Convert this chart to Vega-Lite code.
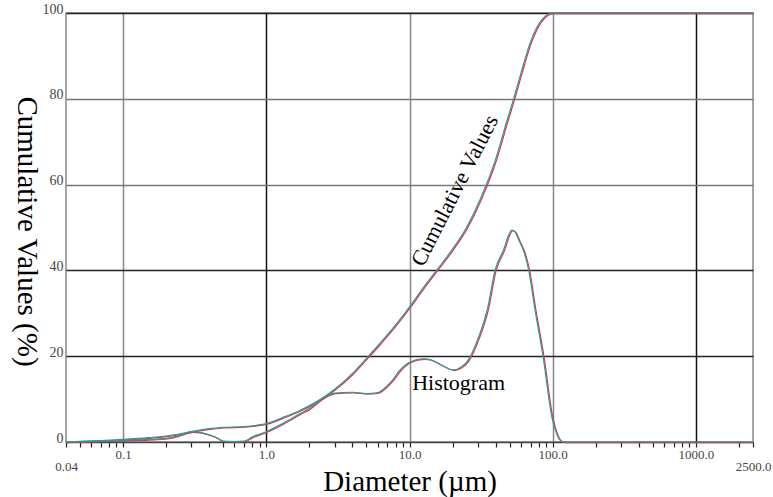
{
  "$schema": "https://vega.github.io/schema/vega-lite/v6.json",
  "width": 687,
  "height": 429,
  "autosize": {"type": "none"},
  "padding": {"left": 66, "top": 13, "right": 20, "bottom": 55},
  "background": "white",
  "config": {"view": {"stroke": "#888", "strokeWidth": 1.5}, "font": "Liberation Serif"},
  "datasets": {
    "curves": [
      {"series": "cum", "d": 0.04, "v": 0},
      {"series": "cum", "d": 0.05, "v": 0.15},
      {"series": "cum", "d": 0.07, "v": 0.35},
      {"series": "cum", "d": 0.1, "v": 0.6},
      {"series": "cum", "d": 0.15, "v": 1.0},
      {"series": "cum", "d": 0.2, "v": 1.4},
      {"series": "cum", "d": 0.3, "v": 2.4},
      {"series": "cum", "d": 0.4, "v": 3.1},
      {"series": "cum", "d": 0.5, "v": 3.4},
      {"series": "cum", "d": 0.7, "v": 3.6},
      {"series": "cum", "d": 0.85, "v": 3.9},
      {"series": "cum", "d": 1.0, "v": 4.3},
      {"series": "cum", "d": 1.3, "v": 5.7},
      {"series": "cum", "d": 1.7, "v": 7.3},
      {"series": "cum", "d": 2.0, "v": 8.5},
      {"series": "cum", "d": 2.5, "v": 10.4},
      {"series": "cum", "d": 3.0, "v": 12.3},
      {"series": "cum", "d": 4.0, "v": 16.0},
      {"series": "cum", "d": 5.0, "v": 19.5},
      {"series": "cum", "d": 6.25, "v": 23.1},
      {"series": "cum", "d": 8.0, "v": 27.3},
      {"series": "cum", "d": 10.0, "v": 31.5},
      {"series": "cum", "d": 12.5, "v": 36.0},
      {"series": "cum", "d": 15.1, "v": 39.6},
      {"series": "cum", "d": 20.0, "v": 45.0},
      {"series": "cum", "d": 25.0, "v": 50.0},
      {"series": "cum", "d": 31.0, "v": 56.4},
      {"series": "cum", "d": 40.0, "v": 66.0},
      {"series": "cum", "d": 48.0, "v": 75.0},
      {"series": "cum", "d": 53.0, "v": 79.7},
      {"series": "cum", "d": 60.0, "v": 86.0},
      {"series": "cum", "d": 69.5, "v": 93.0},
      {"series": "cum", "d": 77.0, "v": 96.5},
      {"series": "cum", "d": 85.7, "v": 98.8},
      {"series": "cum", "d": 100.0, "v": 100},
      {"series": "cum", "d": 2500, "v": 100},
      {"series": "hist", "d": 0.04, "v": 0},
      {"series": "hist", "d": 0.05, "v": 0.1},
      {"series": "hist", "d": 0.07, "v": 0.2},
      {"series": "hist", "d": 0.1, "v": 0.4},
      {"series": "hist", "d": 0.15, "v": 0.6},
      {"series": "hist", "d": 0.2, "v": 0.85},
      {"series": "hist", "d": 0.25, "v": 1.6},
      {"series": "hist", "d": 0.3, "v": 2.4},
      {"series": "hist", "d": 0.35, "v": 2.2},
      {"series": "hist", "d": 0.4, "v": 1.7},
      {"series": "hist", "d": 0.45, "v": 1.0},
      {"series": "hist", "d": 0.5, "v": 0.2},
      {"series": "hist", "d": 0.6, "v": 0.1},
      {"series": "hist", "d": 0.7, "v": 0.2},
      {"series": "hist", "d": 0.8, "v": 1.2},
      {"series": "hist", "d": 1.0, "v": 2.4},
      {"series": "hist", "d": 1.3, "v": 4.3},
      {"series": "hist", "d": 1.7, "v": 6.5},
      {"series": "hist", "d": 2.0, "v": 7.8},
      {"series": "hist", "d": 2.5, "v": 10.3},
      {"series": "hist", "d": 3.0, "v": 11.4},
      {"series": "hist", "d": 4.0, "v": 11.6},
      {"series": "hist", "d": 5.0, "v": 11.3},
      {"series": "hist", "d": 6.0, "v": 11.5},
      {"series": "hist", "d": 6.5, "v": 12.2},
      {"series": "hist", "d": 7.5, "v": 14.2},
      {"series": "hist", "d": 8.6, "v": 16.8},
      {"series": "hist", "d": 10.0, "v": 18.6},
      {"series": "hist", "d": 12.5, "v": 19.4},
      {"series": "hist", "d": 14.0, "v": 19.2},
      {"series": "hist", "d": 17.0, "v": 17.8},
      {"series": "hist", "d": 20.2, "v": 16.8},
      {"series": "hist", "d": 23.0, "v": 17.5},
      {"series": "hist", "d": 25.7, "v": 19.1},
      {"series": "hist", "d": 30.0, "v": 24.0},
      {"series": "hist", "d": 35.0, "v": 31.0},
      {"series": "hist", "d": 39.6, "v": 40.1},
      {"series": "hist", "d": 45.0, "v": 44.5},
      {"series": "hist", "d": 51.8, "v": 49.4},
      {"series": "hist", "d": 54.5, "v": 49.0},
      {"series": "hist", "d": 58.0, "v": 47.0},
      {"series": "hist", "d": 63.0, "v": 44.3},
      {"series": "hist", "d": 68.0, "v": 40.0},
      {"series": "hist", "d": 75.0, "v": 31.0},
      {"series": "hist", "d": 85.7, "v": 19.8},
      {"series": "hist", "d": 98.6, "v": 5.8},
      {"series": "hist", "d": 105.0, "v": 2.5},
      {"series": "hist", "d": 112.0, "v": 0.5},
      {"series": "hist", "d": 120.0, "v": 0},
      {"series": "hist", "d": 2500, "v": 0}
    ],
    "labels": [
      {"label": "Cumulative Values", "d": 12.46, "v": 40.6},
      {"label": "Histogram", "d": 10.44, "v": 12.1}
    ]
  },
  "encoding": {
    "x": {
      "field": "d",
      "type": "quantitative",
      "scale": {"type": "log", "domain": [0.04, 2500], "nice": false},
      "axis": {
        "values": [0.04, 0.05, 0.06, 0.07, 0.08, 0.09, 0.1, 0.2, 0.3, 0.4, 0.5, 0.6, 0.7, 0.8, 0.9, 1, 2, 3, 4, 5, 6, 7, 8, 9, 10, 20, 30, 40, 50, 60, 70, 80, 90, 100, 200, 300, 400, 500, 600, 700, 800, 900, 1000, 2000, 2500],
        "title": "Diameter (µm)",
        "titleFont": "Liberation Serif",
        "titleFontSize": 29,
        "titleFontWeight": "normal",
        "titleColor": "black",
        "titleBaseline": "alphabetic",
        "titleY": 48,
        "labelExpr": "datum.value == 0.04 ? '0.04' : (datum.value == 0.1 || datum.value == 1 || datum.value == 10 || datum.value == 100 || datum.value == 1000 || datum.value == 2500) ? format(datum.value, '.1f') : ''",
        "labelFont": "Liberation Serif",
        "labelFontSize": 13,
        "labelColor": "#444",
        "labelOverlap": false,
        "labelBound": false,
        "labelFlush": false,
        "labelPadding": {"condition": {"test": "datum.value < 0.05 || datum.value > 2000", "value": 13}, "value": 1},
        "ticks": true,
        "tickSize": 5,
        "tickColor": "#222",
        "tickWidth": 1.2,
        "grid": true,
        "gridColor": {"condition": {"test": "datum.value == 1 || datum.value == 1000", "value": "#111"}, "value": "#888"},
        "gridOpacity": {"condition": {"test": "datum.value == 0.1 || datum.value == 1 || datum.value == 10 || datum.value == 100 || datum.value == 1000", "value": 1}, "value": 0},
        "gridWidth": 1.5,
        "domainColor": "#444",
        "domainWidth": 1.5
      }
    },
    "y": {
      "field": "v",
      "type": "quantitative",
      "scale": {"domain": [0, 100], "nice": false},
      "axis": {
        "values": [0, 20, 40, 60, 80, 100],
        "title": "Cumulative Values (%)",
        "titleAngle": 90,
        "titleFont": "Liberation Serif",
        "titleFontSize": 29,
        "titleFontWeight": "normal",
        "titleColor": "black",
        "titleX": -49,
        "titleY": 218,
        "titleAlign": "center",
        "titleBaseline": "alphabetic",
        "labelFont": "Liberation Serif",
        "labelFontSize": 14,
        "labelColor": "#444",
        "labelBaseline": "alphabetic",
        "labelPadding": 3,
        "ticks": false,
        "domain": false,
        "grid": true,
        "gridColor": {"condition": {"test": "datum.value == 60 || datum.value == 80", "value": "#777"}, "value": "#222"},
        "gridOpacity": {"condition": {"test": "datum.value == 0", "value": 0}, "value": 1},
        "gridWidth": 1.5
      }
    }
  },
  "layer": [
    {
      "data": {"name": "curves"},
      "mark": {"type": "line", "color": "#e8303a", "strokeWidth": 1.2, "interpolate": "monotone", "xOffset": 1, "yOffset": 0.6},
      "encoding": {"detail": {"field": "series"}}
    },
    {
      "data": {"name": "curves"},
      "mark": {"type": "line", "color": "#2a9a9a", "strokeWidth": 1.2, "interpolate": "monotone"},
      "encoding": {"detail": {"field": "series"}}
    },
    {
      "data": {"name": "labels"},
      "transform": [{"filter": "datum.label == 'Cumulative Values'"}],
      "mark": {"type": "text", "angle": 297, "align": "left", "baseline": "alphabetic", "font": "Liberation Serif", "fontSize": 22, "color": "black"},
      "encoding": {"text": {"field": "label"}}
    },
    {
      "data": {"name": "labels"},
      "transform": [{"filter": "datum.label == 'Histogram'"}],
      "mark": {"type": "text", "align": "left", "baseline": "alphabetic", "font": "Liberation Serif", "fontSize": 22, "color": "black"},
      "encoding": {"text": {"field": "label"}}
    }
  ]
}
